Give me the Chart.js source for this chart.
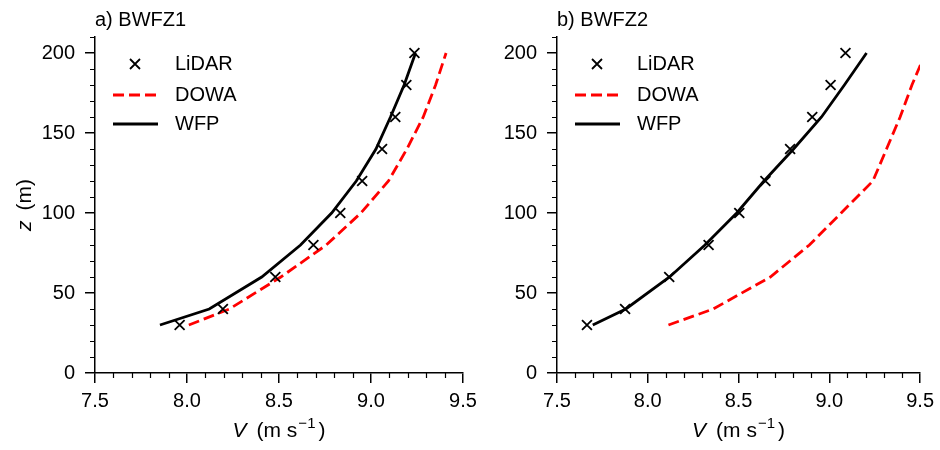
<!DOCTYPE html>
<html>
<head>
<meta charset="UTF-8">
<title>Wind profiles BWFZ1 / BWFZ2</title>
<script src="https://cdn.jsdelivr.net/npm/chart.js@4.4.0/dist/chart.umd.min.js"></script>
<style>
  body { margin: 0; background: #fff; }
  .wrap { position: relative; width: 940px; height: 450px; }
  .wrap canvas { position: absolute; left: 0; top: 0; }
</style>
</head>
<body>
<div class="wrap">
  <canvas id="chartA" width="940" height="450"></canvas>
  <canvas id="chartB" width="940" height="450"></canvas>
</div>
<script>
// heights (m) shared by all profiles
const heights = [30, 40, 60, 80, 100, 120, 140, 160, 180, 200];

// a) BWFZ1 wind speeds (m/s)
const lidarA = [7.96, 8.195, 8.48, 8.687, 8.833, 8.952, 9.06, 9.132, 9.192, 9.236];
const dowaA  = [8.01, 8.23, 8.51, 8.757, 8.945, 9.095, 9.195, 9.284, 9.351, 9.408];
const wfpA   = [7.853, 8.121, 8.406, 8.617, 8.786, 8.92, 9.027, 9.106, 9.18, 9.242];

// b) BWFZ2 wind speeds (m/s)
const lidarB = [7.665, 7.875, 8.118, 8.335, 8.504, 8.648, 8.784, 8.906, 9.007, 9.089];
const dowaB  = [8.114, 8.36, 8.675, 8.89, 9.065, 9.24, 9.315, 9.39, 9.455, 9.53];
const wfpB   = [7.697, 7.879, 8.12, 8.315, 8.49, 8.64, 8.803, 8.957, 9.083, 9.205];

const xTicks = [7.5, 8.0, 8.5, 9.0, 9.5];
const yTicks = [0, 50, 100, 150, 200];
const seriesNames = ['LiDAR', 'DOWA', 'WFP'];

const FONT = '"Liberation Sans", Arial, sans-serif';
const RED = '#ff0000';
const DASH = [11, 5];
const LW = 2.8;

function pts(vals) {
  return heights.map((z, i) => ({ x: vals[i], y: z }));
}

// draws a row of text pieces (font, text, gap before, vertical shift), centred on 0
function drawPieces(ctx, parts, cx, base) {
  let total = 0;
  parts.forEach(p => { ctx.font = p.f; p.w = ctx.measureText(p.t).width; total += p.w + (p.gap || 0); });
  let x0 = cx - total / 2;
  parts.forEach(p => {
    x0 += p.gap || 0;
    ctx.font = p.f;
    ctx.fillText(p.t, x0, base + (p.dy || 0));
    x0 += p.w;
  });
}

// minor ticks, panel title, axis titles and in-plot legend
const decor = {
  id: 'decor',
  afterDraw(chart, args, opts) {
    const ctx = chart.ctx, a = chart.chartArea;
    const xs = chart.scales.x, ys = chart.scales.y;
    ctx.save();

    // minor ticks
    ctx.strokeStyle = '#000';
    ctx.lineWidth = 1.2;
    ctx.beginPath();
    for (let i = 1; i < 20; i++) {
      if (i % 5 === 0) continue;
      const px = Math.round(xs.getPixelForValue(7.5 + i * 0.1)) + 0.5;
      ctx.moveTo(px, a.bottom);
      ctx.lineTo(px, a.bottom + 5);
    }
    for (let v = 10; v <= 210; v += 10) {
      if (v % 50 === 0) continue;
      const py = Math.round(ys.getPixelForValue(v)) + 0.5;
      ctx.moveTo(a.left, py);
      ctx.lineTo(a.left - 5, py);
    }
    ctx.stroke();

    ctx.fillStyle = '#000';
    ctx.textBaseline = 'alphabetic';
    ctx.textAlign = 'left';

    // panel title
    ctx.font = '20px ' + FONT;
    ctx.fillText(opts.title, a.left, 26);

    // x axis title: V (m s^-1)
    drawPieces(ctx, [
      { t: 'V', f: 'italic 21px ' + FONT },
      { t: '(m s', f: '21px ' + FONT, gap: 10 },
      { t: '\u22121', f: '15px ' + FONT, dy: -9, gap: 1 },
      { t: ')', f: '21px ' + FONT, gap: 3 }
    ], (a.left + a.right) / 2, 437);

    // y axis title: z (m)
    if (opts.yTitle) {
      ctx.save();
      ctx.translate(31, (a.top + a.bottom) / 2);
      ctx.rotate(-Math.PI / 2);
      drawPieces(ctx, [
        { t: 'z', f: 'italic 21px ' + FONT },
        { t: '(m)', f: '21px ' + FONT, gap: 10 }
      ], 0, 0);
      ctx.restore();
    }

    // legend
    const lx = a.left, ly = a.top;
    const rows = [ly + 27, ly + 58, ly + 87];
    ctx.strokeStyle = '#000';
    ctx.lineWidth = 1.8;
    ctx.beginPath();
    const mx = lx + 40, my = rows[0], r = 5;
    ctx.moveTo(mx - r, my - r); ctx.lineTo(mx + r, my + r);
    ctx.moveTo(mx - r, my + r); ctx.lineTo(mx + r, my - r);
    ctx.stroke();
    ctx.strokeStyle = RED;
    ctx.lineWidth = LW;
    ctx.setLineDash(DASH);
    ctx.beginPath();
    ctx.moveTo(lx + 18, rows[1]); ctx.lineTo(lx + 63, rows[1]);
    ctx.stroke();
    ctx.setLineDash([]);
    ctx.strokeStyle = '#000';
    ctx.beginPath();
    ctx.moveTo(lx + 18, rows[2]); ctx.lineTo(lx + 63, rows[2]);
    ctx.stroke();

    ctx.font = '20px ' + FONT;
    ctx.textBaseline = 'middle';
    seriesNames.forEach((n, i) => ctx.fillText(n, lx + 80, rows[i]));

    ctx.restore();
  }
};

function makeChart(id, lidar, dowa, wfp, padLeft, padRight, title, yTitle) {
  return new Chart(document.getElementById(id), {
    type: 'scatter',
    data: {
      datasets: [
        {
          label: seriesNames[0],
          data: pts(lidar),
          showLine: false,
          pointStyle: 'crossRot',
          pointRadius: 7,
          pointBorderWidth: 1.8,
          borderColor: '#000',
          backgroundColor: '#000'
        },
        {
          label: seriesNames[1],
          data: pts(dowa),
          showLine: true,
          borderColor: RED,
          borderWidth: LW,
          borderDash: DASH,
          pointRadius: 0,
          tension: 0
        },
        {
          label: seriesNames[2],
          data: pts(wfp),
          showLine: true,
          borderColor: '#000',
          borderWidth: LW,
          pointRadius: 0,
          tension: 0
        }
      ]
    },
    options: {
      responsive: false,
      animation: false,
      events: [],
      layout: { padding: { left: padLeft, right: padRight, top: 37, bottom: 0 } },
      plugins: {
        legend: { display: false },
        tooltip: { enabled: false },
        decor: { title: title, yTitle: yTitle }
      },
      scales: {
        x: {
          type: 'linear',
          min: 7.5,
          max: 9.5,
          afterBuildTicks: s => { s.ticks = xTicks.map(v => ({ value: v })); },
          afterFit: s => { s.height = 77; },
          border: { display: true, color: '#000', width: 1.5 },
          grid: { drawOnChartArea: false, color: '#000', lineWidth: 1.5, tickLength: 10 },
          ticks: {
            color: '#000',
            padding: 6,
            maxRotation: 0,
            font: { family: FONT, size: 20 },
            callback: v => v.toFixed(1)
          }
        },
        y: {
          type: 'linear',
          min: 0,
          max: 210,
          afterBuildTicks: s => { s.ticks = yTicks.map(v => ({ value: v })); },
          afterFit: s => { s.width = 95; },
          border: { display: true, color: '#000', width: 1.5 },
          grid: { drawOnChartArea: false, color: '#000', lineWidth: 1.5, tickLength: 10 },
          ticks: {
            color: '#000',
            padding: 10,
            font: { family: FONT, size: 20 },
            callback: v => String(v)
          }
        }
      }
    },
    plugins: [decor]
  });
}

makeChart('chartA', lidarA, dowaA, wfpA, 0, 940 - 463, 'a) BWFZ1', true);
makeChart('chartB', lidarB, dowaB, wfpB, 462, 940 - 924, 'b) BWFZ2', false);
</script>
</body>
</html>
